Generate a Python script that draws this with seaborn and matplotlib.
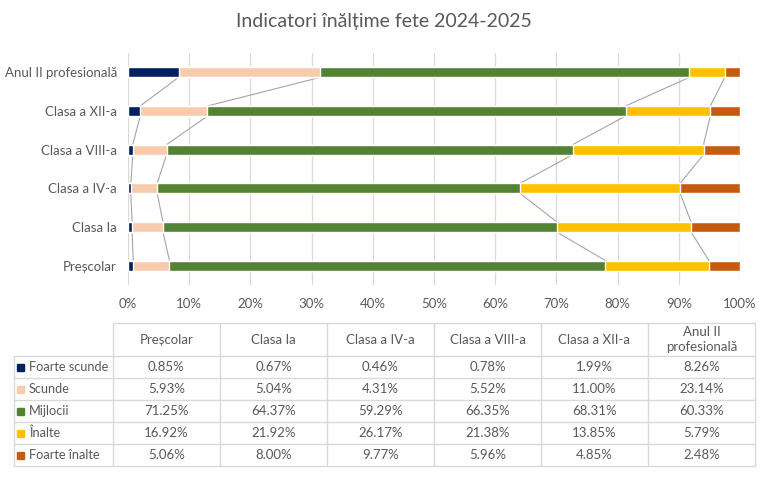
import numpy as np
import pandas as pd
import matplotlib
matplotlib.use("Agg")
import matplotlib.pyplot as plt
from matplotlib.patches import Rectangle
import seaborn as sns

# Data (percent)
categories = ['Preșcolar', 'Clasa Ia', 'Clasa a IV-a', 'Clasa a VIII-a',
              'Clasa a XII-a', 'Anul II profesională']
series_names = ['Foarte scunde', 'Scunde', 'Mijlocii', 'Înalte', 'Foarte înalte']
foarte_scunde = [0.85, 0.67, 0.46, 0.78, 1.99, 8.26]
scunde = [5.93, 5.04, 4.31, 5.52, 11.00, 23.14]
mijlocii = [71.25, 64.37, 59.29, 66.35, 68.31, 60.33]
inalte = [16.92, 21.92, 26.17, 21.38, 13.85, 5.79]
foarte_inalte = [5.06, 8.00, 9.77, 5.96, 4.85, 2.48]

colors = ['#002060', '#F8CBAD', '#548235', '#FFC000', '#C55A11']
text_color = '#595959'

df = pd.DataFrame({'cat': categories,
                   'Foarte scunde': foarte_scunde,
                   'Scunde': scunde,
                   'Mijlocii': mijlocii,
                   'Înalte': inalte,
                   'Foarte înalte': foarte_inalte})

# 100% stacked -> cumulative share
totals = df[series_names].sum(axis=1)
cum = df[series_names].cumsum(axis=1).div(totals, axis=0) * 100
for s in series_names:
    df['cum_' + s] = cum[s]

sns.set_style("white")
plt.rcParams['font.family'] = ['Lato', 'DejaVu Sans']

fig = plt.figure(figsize=(7.68, 4.8), dpi=100)
ax = fig.add_axes([128 / 768, 1 - 285 / 480, 612 / 768, 232 / 480])

order = categories[::-1]  # top to bottom
bar_h = 0.26

# draw longest cumulative first so shorter ones stack on top
for s, c in reversed(list(zip(series_names, colors))):
    sns.barplot(data=df, x='cum_' + s, y='cat', order=order, color=c,
                saturation=1, width=bar_h, orient='h', ax=ax, zorder=3)

# Excel-like series lines between adjacent bars
dfi = df.set_index('cat')
for p in range(len(order) - 1):
    top, bot = order[p], order[p + 1]
    for s in series_names[:-1]:
        ax.plot([dfi.loc[top, 'cum_' + s], dfi.loc[bot, 'cum_' + s]],
                [p + bar_h / 2, p + 1 - bar_h / 2],
                color='#A5A5A5', lw=0.8, zorder=2)

ax.set_xlim(0, 100)
ax.set_ylim(len(order) - 0.5, -0.5)
ax.set_xticks(np.arange(0, 101, 10))
ax.set_xticklabels([f'{v}%' for v in range(0, 101, 10)])
ax.xaxis.grid(True, color='#D9D9D9', lw=0.9, zorder=0)
ax.set_axisbelow(True)
ax.set_xlabel('')
ax.set_ylabel('')
ax.tick_params(axis='both', length=0, labelsize=9.5, colors=text_color)
ax.tick_params(axis='x', pad=9)
ax.tick_params(axis='y', pad=8)
sns.despine(ax=ax, left=True, bottom=True)

fig.text(0.5, 1 - 21 / 480, 'Indicatori înălțime fete 2024-2025',
         ha='center', va='center', fontsize=14, color=text_color)

# Data table below the chart (pixel coordinates)
tax = fig.add_axes([0, 0, 1, 1])
tax.set_xlim(0, 768)
tax.set_ylim(480, 0)
tax.axis('off')
tax.patch.set_alpha(0)

line_c = '#D9D9D9'
x_lab, x0, col_w = 14, 113, 107
x_end = x0 + col_w * len(categories)
y_head, y0, row_h = 323, 356, 22
y_end = y0 + row_h * len(series_names)

tax.plot([x0, x_end], [y_head, y_head], color=line_c, lw=1)
for k in range(len(series_names) + 1):
    tax.plot([x_lab, x_end], [y0 + k * row_h] * 2, color=line_c, lw=1)
tax.plot([x_lab, x_lab], [y0, y_end], color=line_c, lw=1)
for k in range(len(categories) + 1):
    tax.plot([x0 + k * col_w] * 2, [y_head, y_end], color=line_c, lw=1)

header_labels = ['Preșcolar', 'Clasa Ia', 'Clasa a IV-a', 'Clasa a VIII-a',
                 'Clasa a XII-a', 'Anul II\nprofesională']
for k, lab in enumerate(header_labels):
    tax.text(x0 + (k + 0.5) * col_w, (y_head + y0) / 2, lab, ha='center',
             va='center', fontsize=9.5, color=text_color, linespacing=1.3)

for r, (s, c) in enumerate(zip(series_names, colors)):
    yc = y0 + (r + 0.5) * row_h
    tax.add_patch(Rectangle((17, yc - 3.5), 7, 7, color=c))
    tax.text(29, yc, s, ha='left', va='center', fontsize=9.2, color=text_color)
    for k, cat in enumerate(categories):
        tax.text(x0 + (k + 0.5) * col_w, yc, f'{dfi.loc[cat, s]:.2f}%',
                 ha='center', va='center', fontsize=9.5, color=text_color)

fig.savefig('out.png', dpi=100)
